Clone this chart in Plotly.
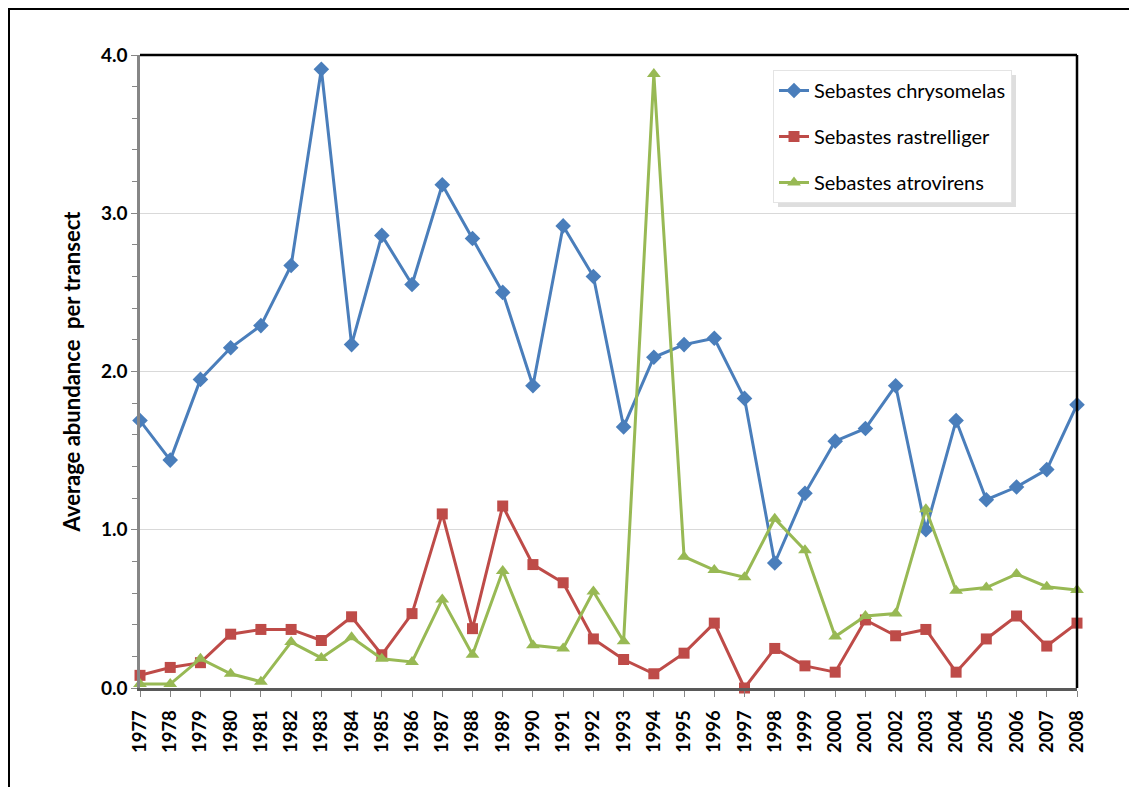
import plotly.graph_objects as go

years = list(range(1977, 2009))
chrysomelas = [1.69, 1.44, 1.95, 2.15, 2.29, 2.67, 3.91, 2.17, 2.86, 2.55, 3.18, 2.84, 2.50, 1.91,
               2.92, 2.60, 1.65, 2.09, 2.17, 2.21, 1.83, 0.79, 1.23, 1.56, 1.64, 1.91, 1.00, 1.69,
               1.19, 1.27, 1.38, 1.79]
rastrelliger = [0.08, 0.13, 0.16, 0.34, 0.37, 0.37, 0.30, 0.45, 0.21, 0.47, 1.10, 0.375, 1.15, 0.78,
                0.665, 0.31, 0.18, 0.09, 0.22, 0.41, 0.00, 0.25, 0.14, 0.10, 0.43, 0.33, 0.37, 0.10,
                0.31, 0.455, 0.265, 0.41]
atrovirens = [0.025, 0.025, 0.185, 0.09, 0.04, 0.29, 0.19, 0.32, 0.185, 0.165, 0.56, 0.21, 0.74, 0.27,
              0.25, 0.61, 0.295, 3.88, 0.83, 0.745, 0.70, 1.07, 0.87, 0.325, 0.455, 0.47, 1.13, 0.615,
              0.635, 0.72, 0.64, 0.62]
names = ["Sebastes chrysomelas", "Sebastes rastrelliger", "Sebastes atrovirens"]
y_title = "Average abundance  per transect"

OFF = 8  # page body margin
W, H = 1137 - OFF, 787 - OFF
L, R, T, B = 140 - OFF, 1077 - OFF, 55 - OFF, 688 - OFF
def px(x):  # screen x -> paper
    return (x - OFF - L) / (R - L)
def py(y):  # screen y -> paper
    return (B - (y - OFF)) / (B - T)

FONT = "Lato, Open Sans, sans-serif"

fig = go.Figure()
styles = [
    ("#4A7EBB", "diamond", 12),
    ("#BE4B48", "square", 11),
    ("#98B954", "triangle-up", 12),
]
for i, (vals, name, (col, sym, sz)) in enumerate(zip([chrysomelas, rastrelliger, atrovirens], names, styles)):
    fig.add_trace(go.Scatter(
        x=years, y=vals, name=name, mode="lines+markers",
        line=dict(color=col, width=3),
        marker=dict(symbol=sym, size=sz, color=col),
        legendgroup=f"g{i}", cliponaxis=False,
    ))

shapes = [
    # legend shadow
    dict(type="rect", xref="paper", yref="paper", x0=px(778), x1=px(1016), y0=py(207), y1=py(75),
         fillcolor="rgba(0,0,0,0.13)", line=dict(width=0), layer="above"),
    # outer chart frame (top & left)
    dict(type="line", xref="paper", yref="paper", x0=px(8), x1=px(1140), y0=py(8.5), y1=py(8.5),
         line=dict(color="black", width=3)),
    dict(type="line", xref="paper", yref="paper", x0=px(8.5), x1=px(8.5), y0=py(8), y1=py(790),
         line=dict(color="black", width=3)),
    # plot area top & right border
    dict(type="line", xref="paper", yref="paper", x0=0, x1=1, y0=1, y1=1,
         line=dict(color="black", width=2.5)),
    dict(type="line", xref="paper", yref="paper", x0=1, x1=1, y0=0, y1=1,
         line=dict(color="black", width=2.5)),
]

fig.update_layout(
    width=W, height=H,
    margin=dict(l=L, r=W - R, t=T, b=H - B),
    paper_bgcolor="white", plot_bgcolor="white",
    font=dict(family=FONT, color="black"),
    showlegend=True,
    legend=dict(
        x=px(773), y=py(70), xanchor="left", yanchor="top",
        bgcolor="white", bordercolor="#e4e4e4", borderwidth=1,
        font=dict(size=20, family=FONT, color="black"),
        tracegroupgap=17, itemwidth=30,
    ),
    xaxis=dict(
        range=[1977, 2008], tickmode="array", tickvals=years, ticktext=[str(y) for y in years],
        tickangle=-90, tickfont=dict(size=18.5, family=FONT, color="black", weight="bold"),
        ticks="outside", ticklen=6, tickcolor="#868686", tickwidth=1, ticklabelstandoff=6,
        showline=True, linecolor="#595959", linewidth=2.5,
        showgrid=False, zeroline=False,
    ),
    yaxis=dict(
        range=[0, 4], tickvals=[0, 1, 2, 3, 4], ticktext=["0.0", "1.0", "2.0", "3.0", "4.0"],
        tickfont=dict(size=19, family=FONT, color="black", weight="bold"),
        ticks="outside", ticklen=6, tickcolor="#868686", tickwidth=1,
        minor=dict(dtick=0.2, ticks="outside", ticklen=5, tickcolor="#868686", showgrid=False),
        showline=True, linecolor="#868686", linewidth=2.5,
        showgrid=True, gridcolor="#d9d9d9", gridwidth=1, zeroline=False,
        title=dict(text=y_title, font=dict(size=22, family=FONT, color="black", weight="bold"), standoff=15),
    ),
    shapes=shapes,
)

fig.write_html("out.html")
